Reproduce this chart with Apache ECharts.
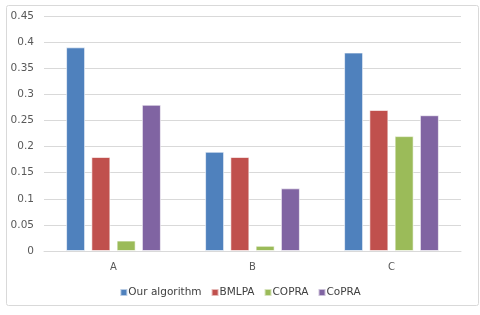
<!DOCTYPE html>
<html><head><meta charset="utf-8">
<script src="https://cdn.jsdelivr.net/npm/echarts@6/dist/echarts.min.js"></script>
<style>html,body{margin:0;padding:0;background:#fff}#c{width:480px;height:315px}</style>
</head><body><div id="c"></div>
<script>
var categories = ['A', 'B', 'C'];
var seriesNames = ['Our algorithm', 'BMLPA', 'COPRA', 'CoPRA'];
var ourAlgorithm = [0.39, 0.19, 0.38];
var bmlpa = [0.18, 0.18, 0.27];
var copraUpper = [0.02, 0.01, 0.22];
var copraLower = [0.28, 0.12, 0.26];
var yTicks = [0, 0.05, 0.1, 0.15, 0.2, 0.25, 0.3, 0.35, 0.4, 0.45];
var colors = ['#4F81BD', '#C0504D', '#9BBB59', '#8064A2'];
var values = [ourAlgorithm, bmlpa, copraUpper, copraLower];

var chart = echarts.init(document.getElementById('c'), null, {renderer: 'canvas'});
var font = 'DejaVu Sans';
chart.setOption({
  animation: false,
  backgroundColor: '#fff',
  graphic: [{
    type: 'rect', left: 4, top: 3, shape: {width: 472, height: 300, r: 2},
    style: {fill: 'none', stroke: '#D9D9D9', lineWidth: 1}, silent: true, z: -1
  }],
  grid: {left: 44, right: 19, top: 16, bottom: 64},
  legend: {
    bottom: 12, left: 'center', icon: 'rect', itemWidth: 7, itemHeight: 7, itemGap: 9,
    textStyle: {fontFamily: font, fontSize: 10.5, color: '#404040', padding: [0, 0, 0, -4]},
    data: seriesNames
  },
  xAxis: {
    type: 'category', data: categories,
    axisLine: {show: true, lineStyle: {color: '#D9D9D9'}},
    axisTick: {show: false},
    axisLabel: {fontFamily: font, fontSize: 10, color: '#595959', margin: 11}
  },
  yAxis: {
    type: 'value', min: 0, max: 0.45, interval: 0.05,
    axisLine: {show: false}, axisTick: {show: false},
    splitLine: {lineStyle: {color: '#D9D9D9'}},
    axisLabel: {fontFamily: font, fontSize: 10.5, color: '#595959', margin: 10,
      formatter: function (v) { var t = yTicks.find(function (x) { return Math.abs(x - v) < 1e-9; }); return t === undefined ? '' : String(t); }}
  },
  series: seriesNames.map(function (n, i) {
    return {
      name: n, type: 'bar', data: values[i], barWidth: 19, barGap: '33%',
      itemStyle: {color: colors[i], borderColor: 'rgba(255,255,255,0.6)', borderWidth: 1}
    };
  })
});
</script></body></html>
